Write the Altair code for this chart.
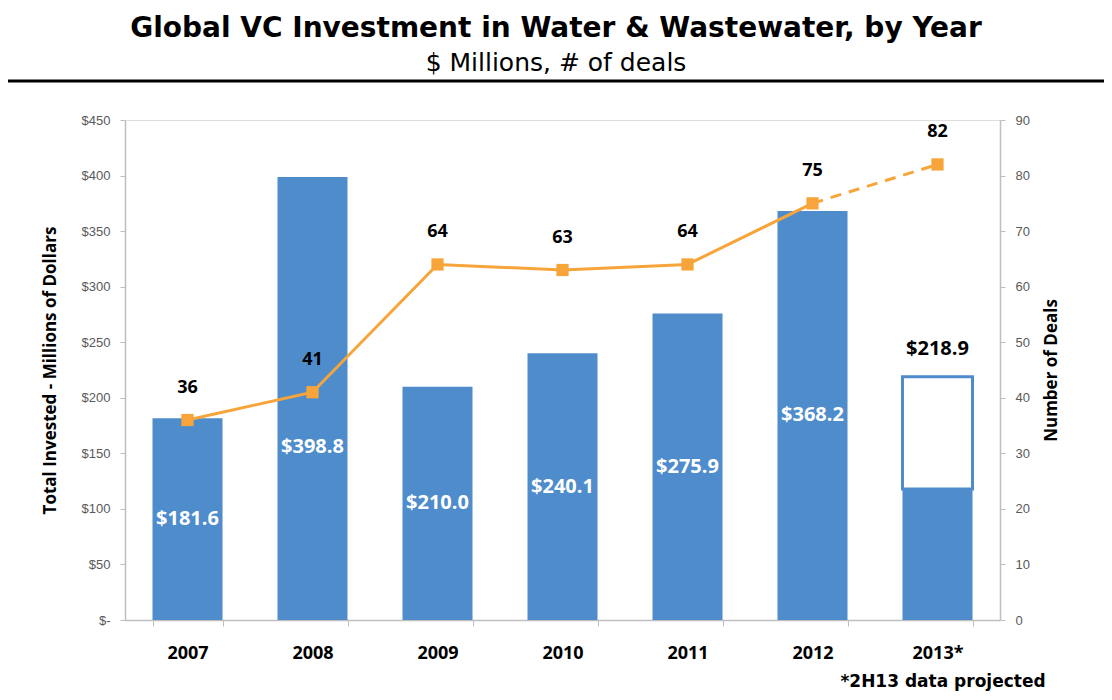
import altair as alt
import pandas as pd

years = ["2007", "2008", "2009", "2010", "2011", "2012", "2013*"]
invested = [181.6, 398.8, 210.0, 240.1, 275.9, 368.2, 218.9]
actual_2013_first_half = 118.0
deals = [36, 41, 64, 63, 64, 75, 82]

title_text = "Global VC Investment in Water & Wastewater, by Year"
subtitle_text = "$ Millions, # of deals"
footnote_text = "*2H13 data projected"

BLUE = "#4F8CCB"
ORANGE = "#F7A53A"
GRAY = "#BFBFBF"
LABEL_FONT = "Open Sans"
HEAD_FONT = "DejaVu Sans"

# bar table: solid part for each year; 2013 solid part is first half only
solid_vals = invested[:-1] + [actual_2013_first_half]
bars_df = pd.DataFrame({
    "year": years,
    "value": solid_vals,
    "total": invested,
    "label": ["$" + format(v, ".1f") for v in invested],
    "projected": [False] * 6 + [True],
})

line_rows = []
for i, (y, d) in enumerate(zip(years, deals)):
    if i <= 5:
        line_rows.append({"year": y, "deals": d, "seg": "actual"})
    if i >= 5:
        line_rows.append({"year": y, "deals": d, "seg": "projected"})
line_df = pd.DataFrame(line_rows)
pts_df = pd.DataFrame({"year": years, "deals": deals})

x_enc = alt.X(
    "year:N",
    sort=years,
    scale=alt.Scale(paddingInner=0.44, paddingOuter=0.22),
    axis=alt.Axis(
        title=None,
        labelAngle=0,
        labelFontSize=18,
        labelFontWeight="bold",
        labelColor="#000000",
        labelFont=LABEL_FONT,
        labelPadding=18,
        tickBand="extent",
        tickSize=6,
        tickColor=GRAY,
        domainColor=GRAY,
        domainWidth=1.5,
    ),
)

y_left = alt.Y(
    "value:Q",
    scale=alt.Scale(domain=[0, 450], nice=False),
    axis=alt.Axis(
        title="Total Invested - Millions of Dollars",
        titleFontSize=17,
        titleFont=LABEL_FONT,
        titleFontWeight="bold",
        titleColor="#000000",
        titlePadding=22,
        values=list(range(0, 451, 50)),
        labelExpr="datum.value == 0 ? '$-' : '$' + datum.value",
        labelFontSize=13,
        labelFont="Liberation Sans",
        labelColor="#595959",
        labelPadding=10,
        tickSize=5,
        tickColor=GRAY,
        domainColor=GRAY,
        domainWidth=1.5,
        grid=False,
    ),
)

base_bars = alt.Chart(bars_df)

bars = base_bars.mark_bar(color=BLUE).encode(x=x_enc, y=y_left)

proj_box = base_bars.transform_filter("datum.projected").mark_bar(
    fill="white", stroke=BLUE, strokeWidth=3
).encode(
    x=alt.X("year:N", sort=years),
    y=alt.Y("value:Q"),
    y2="total:Q",
)

inside_labels = base_bars.transform_filter("!datum.projected").transform_calculate(
    pos="datum.year == '2008' ? datum.value * 0.39 : datum.value / 2"
).mark_text(
    color="white", fontSize=20, font=LABEL_FONT, fontWeight="bold", baseline="middle"
).encode(
    x=alt.X("year:N", sort=years),
    y=alt.Y("pos:Q"),
    text="label:N",
)

proj_label = base_bars.transform_filter("datum.projected").mark_text(
    color="black", fontSize=20, font=LABEL_FONT, fontWeight="bold", baseline="middle", dy=-28
).encode(
    x=alt.X("year:N", sort=years),
    y=alt.Y("total:Q"),
    text="label:N",
)

y_right_axis = alt.Axis(
    title="Number of Deals",
    orient="right",
    titleAngle=270,
    titleFontSize=17,
    titleFont=LABEL_FONT,
    titleFontWeight="bold",
    titleColor="#000000",
    titlePadding=31,
    values=list(range(0, 91, 10)),
    labelFontSize=13,
    labelFont="Liberation Sans",
    labelColor="#595959",
    labelPadding=10,
    tickSize=5,
    tickColor=GRAY,
    domainColor=GRAY,
    domainWidth=1.5,
    grid=False,
)
y_right_scale = alt.Scale(domain=[0, 90], nice=False)

line_solid = alt.Chart(line_df).transform_filter("datum.seg == 'actual'").mark_line(
    color=ORANGE, strokeWidth=3
).encode(
    x=alt.X("year:N", sort=years),
    y=alt.Y("deals:Q", scale=y_right_scale, axis=y_right_axis),
)
line_dash = alt.Chart(line_df).transform_filter("datum.seg == 'projected'").mark_line(
    color=ORANGE, strokeWidth=3, strokeDash=[11, 8]
).encode(
    x=alt.X("year:N", sort=years),
    y=alt.Y("deals:Q", scale=y_right_scale),
)
points = alt.Chart(pts_df).mark_point(
    shape="square", filled=True, color=ORANGE, size=150, opacity=1
).encode(
    x=alt.X("year:N", sort=years),
    y=alt.Y("deals:Q", scale=y_right_scale),
)
deal_labels = alt.Chart(pts_df).mark_text(
    color="black", fontSize=18, font=LABEL_FONT, fontWeight="bold", baseline="middle", dy=-32
).encode(
    x=alt.X("year:N", sort=years),
    y=alt.Y("deals:Q", scale=y_right_scale),
    text="deals:Q",
)

right_layer = alt.layer(line_solid, line_dash, points, deal_labels)

one = pd.DataFrame({"t": [0]})
title_mark = alt.Chart(one).mark_text(
    text=title_text, fontSize=28, font=HEAD_FONT, fontWeight="bold",
    align="center", baseline="alphabetic", color="black"
).encode(x=alt.value(431), y=alt.value(-83))
subtitle_mark = alt.Chart(one).mark_text(
    text=subtitle_text, fontSize=25, font=HEAD_FONT, fontWeight="normal",
    align="center", baseline="alphabetic", color="black"
).encode(x=alt.value(431), y=alt.value(-49))
rule_mark = alt.Chart(one).mark_rule(color="black", strokeWidth=3).encode(
    x=alt.value(-117), x2=alt.value(979), y=alt.value(-39)
)
foot_mark = alt.Chart(one).mark_text(
    text=footnote_text, fontSize=17, font=HEAD_FONT, fontWeight="bold",
    align="center", baseline="alphabetic", color="black"
).encode(x=alt.value(818), y=alt.value(67 + 500))

left_layer = alt.layer(bars, proj_box, inside_labels, proj_label, title_mark, subtitle_mark, rule_mark, foot_mark)

chart = alt.layer(left_layer, right_layer).resolve_scale(y="independent").properties(
    width=875,
    height=500,
    autosize=alt.AutoSizeParams(type="none"),
    padding={"left": 117, "top": 112, "right": 104, "bottom": 72},
).configure_view(stroke=None).configure(background="white")

chart.save("out.html", embed_options={"renderer": "svg", "actions": False})
